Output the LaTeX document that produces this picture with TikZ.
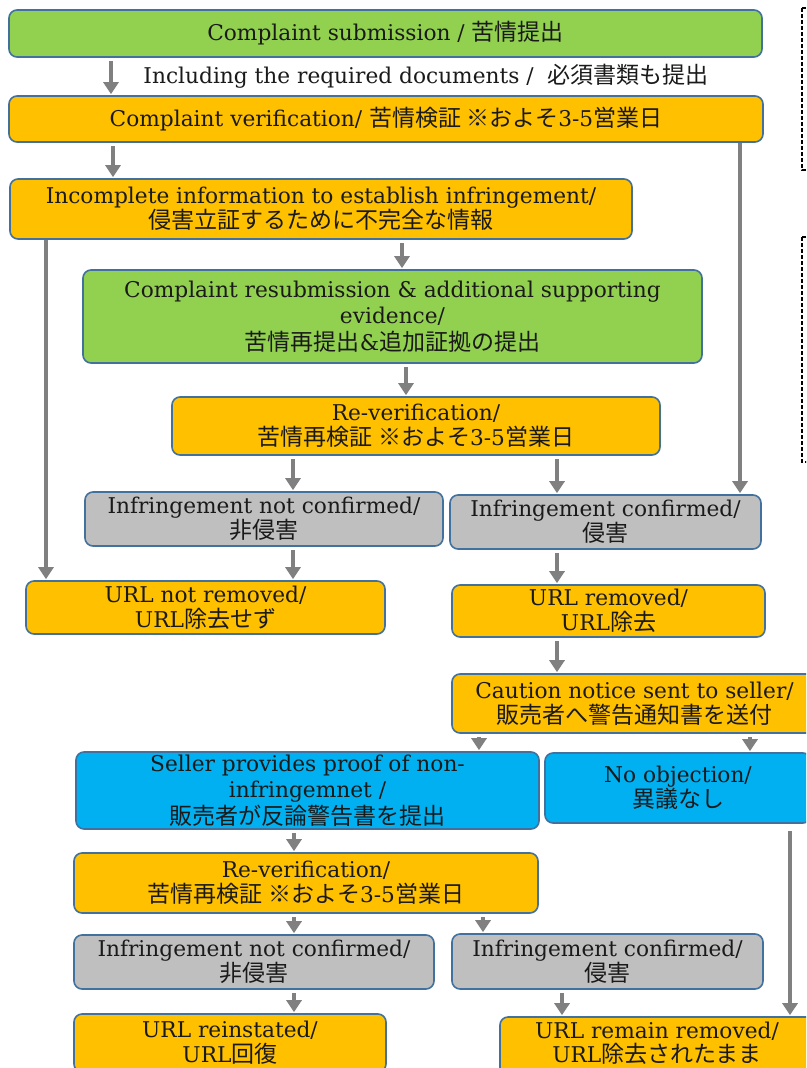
\documentclass[tikz,border=0pt]{standalone}
\usepackage{fontspec}
\setmainfont{DejaVu Serif}
\newfontfamily\cjk{Noto Sans CJK JP}
\usetikzlibrary{arrows.meta}
\definecolor{cgreen}{HTML}{92D050}
\definecolor{corange}{HTML}{FFC000}
\definecolor{cgray}{HTML}{BFBFBF}
\definecolor{cblue}{HTML}{00B0F0}
\definecolor{cborder}{HTML}{41719C}
\definecolor{carrow}{HTML}{808080}
\definecolor{ctext}{HTML}{1A1A1A}
\newcommand\JP[1]{{\cjk\fontsize{23}{25}\selectfont #1}}
\begin{document}
\begin{tikzpicture}[x=1pt,y=-1pt,
  box/.style={draw=cborder, line width=1.6pt, rounded corners=8pt, align=center, inner sep=0pt,
    font=\fontsize{21.7}{25}\selectfont, text=ctext},
  tall/.style={font=\fontsize{21.7}{26.5}\selectfont},
  arr/.style={draw=carrow, line width=4pt, -{Triangle[width=15pt,length=12pt]}, shorten <=3pt, shorten >=1pt},
  dbox/.style={draw=black, line width=1.5pt, dash pattern=on 4pt off 2pt}]
\useasboundingbox (0,0) rectangle (806,1068);
\clip (0,0) rectangle (806,1068);
\fill[white] (0,0) rectangle (806,1068);

% nodes
\node[box, fill=cgreen, minimum width=753pt, minimum height=47pt] (sub) at (385.5,33.5) {Complaint submission / \JP{苦情提出}};
\node[font=\fontsize{21.7}{25}\selectfont, text=ctext] (lbl) at (426,76) {Including the required documents /\ \ \JP{必須書類も提出}};
\node[box, fill=corange, minimum width=754pt, minimum height=46pt] (ver) at (386,119) {Complaint verification/ \JP{苦情検証 ※およそ}3-5\JP{営業日}};
\node[box, fill=corange, minimum width=622pt, minimum height=60pt] (inc) at (321,209) {Incomplete information to establish infringement/\\\JP{侵害立証するために不完全な情報}};
\node[box, tall, fill=cgreen, minimum width=619pt, minimum height=93pt] (resub) at (392.5,316.5) {Complaint resubmission \& additional supporting\\evidence/\\\JP{苦情再提出}\&\JP{追加証拠の提出}};
\node[box, fill=corange, minimum width=488pt, minimum height=58pt] (rev1) at (416,426) {Re-verification/\\\JP{苦情再検証 ※およそ}3-5\JP{営業日}};
\node[box, fill=cgray, minimum width=358pt, minimum height=54pt] (nc1) at (264,519) {Infringement not confirmed/\\\JP{非侵害}};
\node[box, fill=cgray, minimum width=311pt, minimum height=54pt] (c1) at (605.5,522) {Infringement confirmed/\\\JP{侵害}};
\node[box, fill=corange, minimum width=359pt, minimum height=53pt] (nr) at (205.5,607.5) {URL not removed/\\URL\JP{除去せず}};
\node[box, fill=corange, minimum width=313pt, minimum height=52pt] (rm) at (608.5,611) {URL removed/\\URL\JP{除去}};
\node[box, fill=corange, minimum width=365pt, minimum height=59pt] (cau) at (634.5,703.5) {Caution notice sent to seller/\\\JP{販売者へ警告通知書を送付}};
\node[box, tall, fill=cblue, minimum width=463pt, minimum height=77pt] (sel) at (307.5,790.5) {Seller provides proof of non-\\infringemnet /\\\JP{販売者が反論警告書を提出}};
\node[box, fill=cblue, minimum width=266pt, minimum height=70pt] (noo) at (678,788) {No objection/\\\JP{異議なし}};
\node[box, fill=corange, minimum width=464pt, minimum height=60pt] (rev2) at (306,883) {Re-verification/\\\JP{苦情再検証 ※およそ}3-5\JP{営業日}};
\node[box, fill=cgray, minimum width=360pt, minimum height=54pt] (nc2) at (254,962) {Infringement not confirmed/\\\JP{非侵害}};
\node[box, fill=cgray, minimum width=311pt, minimum height=55pt] (c2) at (607.5,961.5) {Infringement confirmed/\\\JP{侵害}};
\node[box, fill=corange, minimum width=312pt, minimum height=58pt] (rei) at (230,1043) {URL reinstated/\\URL\JP{回復}};
\node[box, fill=corange, minimum width=314pt, minimum height=59pt] (rem) at (657,1046.5) {};
\node[font=\fontsize{21.7}{24}\selectfont, text=ctext, align=center, inner sep=0pt] (remtxt) at (657,1043) {URL remain removed/\\URL\JP{除去されたまま}};

% dashed boxes at right edge
\draw[dbox] (802,8) rectangle (870,170);
\draw[dbox] (802,237) rectangle (870,462);

% x positions for connectors
\coordinate (x46) at (46,0);
\coordinate (x111) at (111,0);
\coordinate (x113) at (113,0);
\coordinate (x293) at (293,0);
\coordinate (x294) at (294,0);
\coordinate (x402) at (402,0);
\coordinate (x406) at (406,0);
\coordinate (x479) at (479,0);
\coordinate (x483) at (483,0);
\coordinate (x557) at (557,0);
\coordinate (x562) at (562,0);
\coordinate (x740) at (740,0);
\coordinate (x750) at (750,0);
\coordinate (x790) at (790,0);

% connectors
\draw[arr] (sub.south -| x111) -- (ver.north -| x111);
\draw[arr] (ver.south -| x113) -- (inc.north -| x113);
\draw[arr, shorten <=0pt] (inc.south -| x46) -- (nr.north -| x46);
\draw[arr] (inc.south -| x402) -- (resub.north -| x402);
\draw[arr] (resub.south -| x406) -- (rev1.north -| x406);
\draw[arr] (rev1.south -| x293) -- (nc1.north -| x293);
\draw[arr] (rev1.south -| x557) -- (c1.north -| x557);
\draw[arr, shorten <=0pt] (ver.south -| x740) -- (c1.north -| x740);
\draw[arr] (nc1.south -| x293) -- (nr.north -| x293);
\draw[arr] (c1.south -| x557) -- (rm.north -| x557);
\draw[arr] (rm.south -| x557) -- (cau.north -| x557);
\draw[arr] (cau.south -| x479) -- (sel.north -| x479);
\draw[arr] (cau.south -| x750) -- (noo.north -| x750);
\draw[arr] (sel.south -| x294) -- (rev2.north -| x294);
\draw[arr] (rev2.south -| x294) -- (nc2.north -| x294);
\draw[arr] (rev2.south -| x483) -- (c2.north -| x483);
\draw[arr] (nc2.south -| x294) -- (rei.north -| x294);
\draw[arr] (c2.south -| x562) -- (rem.north -| x562);
\draw[arr, shorten <=7pt] (noo.south -| x790) -- (rem.north -| x790);
\end{tikzpicture}
\end{document}
